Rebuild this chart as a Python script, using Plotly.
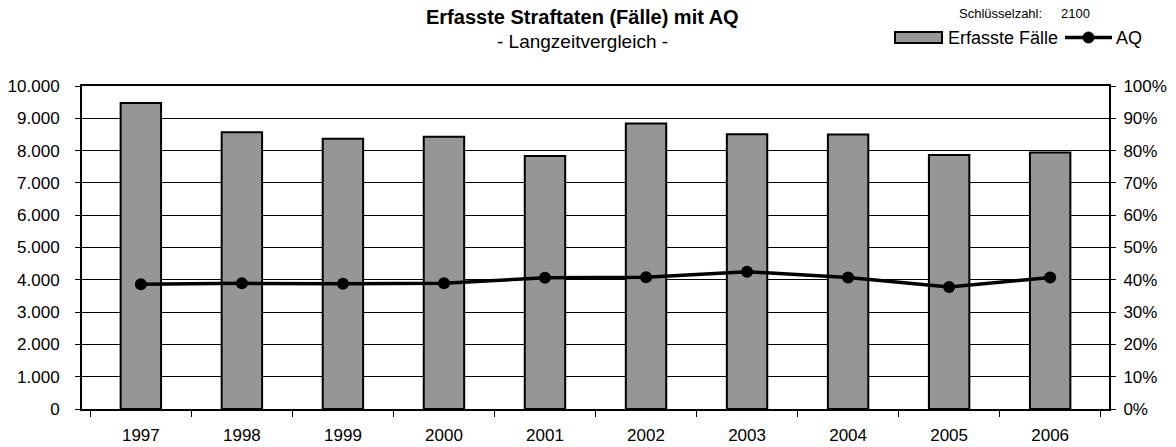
import plotly.graph_objects as go

years = ["1997", "1998", "1999", "2000", "2001", "2002", "2003", "2004", "2005", "2006"]
faelle = [9470, 8570, 8370, 8430, 7830, 8840, 8510, 8500, 7860, 7940]
aq = [38.6, 38.9, 38.8, 38.9, 40.6, 40.8, 42.5, 40.7, 37.8, 40.7]

y_ticks = list(range(0, 10001, 1000))
y2_ticks = list(range(0, 101, 10))
y2_labels = [f"{v}%" for v in y2_ticks]

FONT = "Liberation Sans, Arial, sans-serif"
W, H = 1176, 447
ML, MR, MT, MB = 82, 67, 86, 38
TICK = 17

fig = go.Figure()
fig.add_trace(go.Bar(
    x=years, y=faelle, name="Erfasste Fälle",
    marker=dict(color="#969696", line=dict(color="black", width=2)),
    showlegend=False,
))
fig.add_trace(go.Scatter(
    x=years, y=aq, name="AQ", yaxis="y2", mode="lines+markers",
    line=dict(color="black", width=3.5),
    marker=dict(color="black", size=12, symbol="circle"),
    showlegend=False,
))

fig.update_layout(
    width=W, height=H,
    margin=dict(l=ML, r=MR, t=MT, b=MB, autoexpand=False),
    paper_bgcolor="white", plot_bgcolor="white",
    separators=",.",
    font=dict(family=FONT, size=TICK, color="black"),
    bargap=0.6,
    xaxis=dict(
        type="category", tickson="boundaries", ticks="outside", ticklen=6,
        tickcolor="black", tickwidth=1, showgrid=False, automargin=False,
        showline=True, linecolor="black", linewidth=2, mirror=True,
        ticklabelstandoff=10, tickfont=dict(size=TICK),
    ),
    yaxis=dict(
        range=[0, 10000], tickvals=y_ticks, tickformat=",d", automargin=False,
        ticks="outside", ticklen=5, tickcolor="black",
        showgrid=True, gridcolor="black", gridwidth=1,
        showline=True, linecolor="black", linewidth=2,
        zeroline=False, ticklabelstandoff=12, tickfont=dict(size=TICK),
    ),
    yaxis2=dict(
        range=[0, 100], tickvals=y2_ticks, ticktext=y2_labels, overlaying="y",
        side="right", ticks="outside", ticklen=5, tickcolor="black", automargin=False,
        showgrid=False, showline=True, linecolor="black", linewidth=2,
        zeroline=False, ticklabelstandoff=4, tickfont=dict(size=TICK),
    ),
    showlegend=False,
)

def px(xp):
    return (xp - ML) / (W - ML - MR)

def py(yp):
    return (H - MB - yp) / (H - MT - MB)

ann = [
    dict(text="<b>Erfasste Straftaten (Fälle) mit AQ</b>", x=582, y=17, size=20),
    dict(text="- Langzeitvergleich -", x=582, y=42, size=19),
    dict(text="Schlüsselzahl:", x=957, y=13, size=13, xanchor="left"),
    dict(text="2100", x=1059, y=13, size=13, xanchor="left"),
    dict(text="Erfasste Fälle", x=946, y=38, size=18, xanchor="left"),
    dict(text="AQ", x=1114, y=38, size=18, xanchor="left"),
]
for a in ann:
    fig.add_annotation(
        text=a["text"], x=px(a["x"]), y=py(a["y"]),
        xref="paper", yref="paper", showarrow=False,
        xanchor=a.get("xanchor", "center"), yanchor="middle",
        font=dict(size=a["size"]),
    )

fig.add_shape(type="rect", xref="paper", yref="paper",
              x0=px(895), x1=px(942), y0=py(43), y1=py(32),
              fillcolor="#969696", line=dict(color="black", width=2))
fig.add_shape(type="line", xref="paper", yref="paper",
              x0=px(1065), x1=px(1112), y0=py(37.5), y1=py(37.5),
              line=dict(color="black", width=3.5))
fig.add_shape(type="circle", xref="paper", yref="paper",
              x0=px(1083), x1=px(1094), y0=py(43), y1=py(32),
              fillcolor="black", line=dict(color="black", width=1))

fig.write_html("out.html", config={"displayModeBar": False},
               post_script="document.body.style.margin='0';")
